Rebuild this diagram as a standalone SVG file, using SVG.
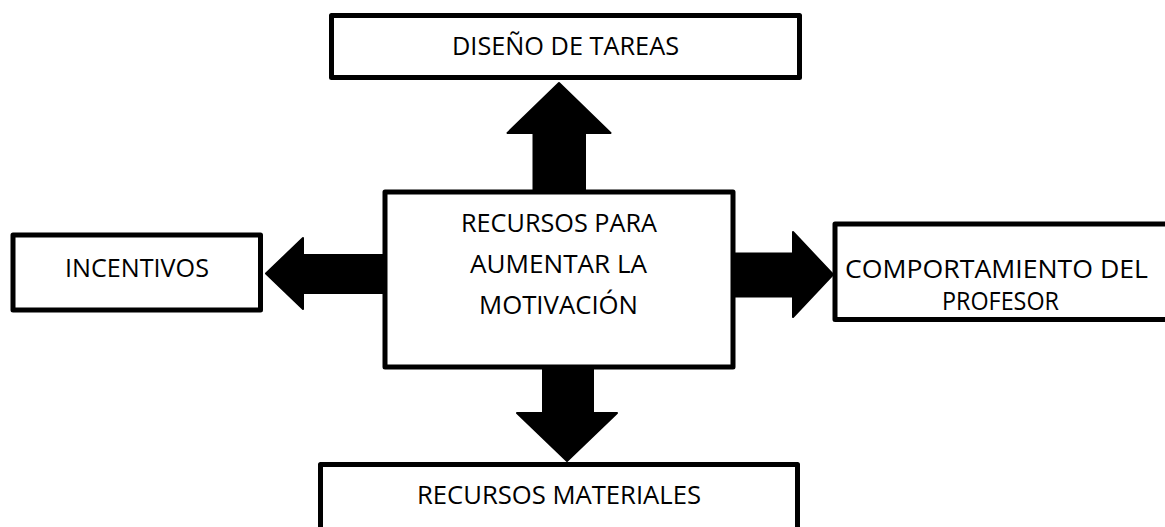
<svg xmlns="http://www.w3.org/2000/svg" width="1165" height="527" viewBox="0 0 1165 527">
  <style>
    .box { fill: #ffffff; stroke: #000000; stroke-width: 5; stroke-linejoin: round; }
    .lbl { font-family: "Open Sans", "Noto Sans", "Liberation Sans", sans-serif; font-size: 25.5px; fill: #000000; text-anchor: middle; }
    .arrow { fill: #000000; stroke: #000000; stroke-width: 2; stroke-linejoin: round; }
  </style>
  <rect width="1165" height="527" fill="#ffffff"/>
  <g id="connectors">
    <polygon class="arrow" points="533.5,192 533.5,133 507.5,133 559,83 610.5,133 585,133 585,192"/>
    <polygon class="arrow" points="385,255 303,255 303,238 266,273.5 303,309 303,293 385,293"/>
    <polygon class="arrow" points="733,253.5 793,253.5 793,232 833,274.5 793,317 793,296.5 733,296.5"/>
    <polygon class="arrow" points="543,367 543,413 517,413 567,461 617,413 593,413 593,367"/>
  </g>
  <g id="node-tareas">
    <rect class="box" x="331.5" y="15.5" width="468" height="62"/>
    <text class="lbl" x="565.5" y="55" textLength="227" lengthAdjust="spacingAndGlyphs">DISEÑO DE TAREAS</text>
  </g>
  <g id="node-centro">
    <rect class="box" x="385" y="192" width="348" height="175"/>
    <text class="lbl" x="559" y="232" textLength="196" lengthAdjust="spacingAndGlyphs">RECURSOS PARA</text>
    <text class="lbl" x="558.5" y="273" textLength="177" lengthAdjust="spacingAndGlyphs">AUMENTAR LA</text>
    <text class="lbl" x="558.5" y="314" textLength="159" lengthAdjust="spacingAndGlyphs">MOTIVACIÓN</text>
  </g>
  <g id="node-incentivos">
    <rect class="box" x="13" y="235" width="247.5" height="75"/>
    <text class="lbl" x="137" y="277" textLength="144" lengthAdjust="spacingAndGlyphs">INCENTIVOS</text>
  </g>
  <g id="node-profesor">
    <rect class="box" x="835" y="224" width="340" height="95.5"/>
    <text class="lbl" x="996.5" y="278" textLength="303" lengthAdjust="spacingAndGlyphs">COMPORTAMIENTO DEL</text>
    <text class="lbl" x="1000.5" y="310" textLength="117" lengthAdjust="spacingAndGlyphs">PROFESOR</text>
  </g>
  <g id="node-materiales">
    <rect class="box" x="320.5" y="464.5" width="477" height="80"/>
    <text class="lbl" x="559" y="504" textLength="284" lengthAdjust="spacingAndGlyphs">RECURSOS MATERIALES</text>
  </g>
</svg>
